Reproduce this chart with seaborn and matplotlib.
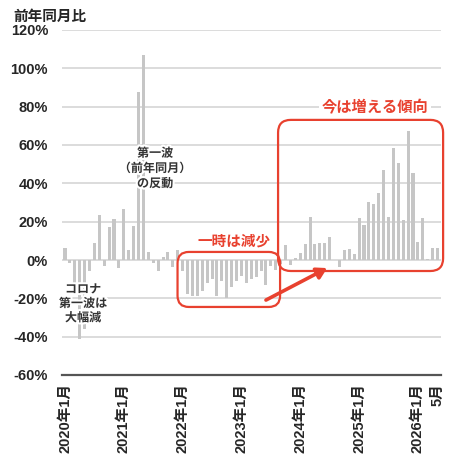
import pandas as pd
import matplotlib.pyplot as plt
import matplotlib.patheffects as pe
from matplotlib.patches import FancyBboxPatch
import seaborn as sns

sns.set_style('white')
plt.rcParams['font.family'] = ['Liberation Sans', 'Noto Sans CJK JP']
plt.rcParams['axes.unicode_minus'] = False

# 前年同月比（%） 2020年1月〜2026年5月
vals_2020 = [6, -1.5, -18, -41, -36, -6, 8.7, 23.5, -3, 17.4, 21.2, -4]
vals_2021 = [26.6, 5, 17.5, 87.4, 107, 4, -1.5, -6, 1.5, 4, -3.5, 5]
vals_2022 = [-6, -17.5, -19, -19, -16, -12, -10, -19, -11, -20, -14, -11]
vals_2023 = [-8.5, -12, -10, -9, -6, -13, -3, -5, -2, 7.8, -2.6, 1]
vals_2024 = [3.5, 8.2, 22.6, 8.2, 9, 8.7, 12.2, 0, -3.8, 5.2, 5.6, 3]
vals_2025 = [21.8, 18, 30, 29.3, 35, 47, 22.6, 58.3, 50.8, 20.9, 67.5, 45.6]
vals_2026 = [9.4, 21.8, 0.7, 6.4, 6.4]

years = [2020, 2021, 2022, 2023, 2024, 2025, 2026]
all_vals = [vals_2020, vals_2021, vals_2022, vals_2023, vals_2024, vals_2025, vals_2026]

months = []
yoy = []
for y, vs in zip(years, all_vals):
    for m, v in enumerate(vs, start=1):
        months.append(f'{y}年{m}月')
        yoy.append(v)
df = pd.DataFrame({'month': months, 'yoy': yoy})

tick_labels = ['2020年1月', '2021年1月', '2022年1月', '2023年1月',
               '2024年1月', '2025年1月', '2026年1月', '5月']
tick_pos = [months.index(t) for t in tick_labels[:-1]] + [len(months) - 1]

red = '#e8412f'
bar_color = '#c6c6c6'

fig = plt.figure(figsize=(4.5, 4.65), dpi=100)
ax = fig.add_axes([62/450, 90/465, 379/450, 345/465])

sns.barplot(data=df, x='month', y='yoy', color=bar_color, saturation=1,
            width=0.62, linewidth=0, ax=ax)

ax.set_xlim(-0.61, 76.71)
ax.set_ylim(-60, 120)
ax.set_yticks(range(-60, 121, 20))
ax.set_yticklabels([f'{v}%' for v in range(-60, 121, 20)], fontsize=10.5, fontweight='bold')
ax.set_xticks(tick_pos)
ax.set_xticklabels(tick_labels, rotation=90, fontsize=10.5, fontweight='bold',
                   va='top', ha='center')
ax.tick_params(axis='both', length=0)
ax.tick_params(axis='y', pad=10)
ax.tick_params(axis='x', pad=6)
ax.set_xlabel('')
ax.set_ylabel('')
ax.yaxis.grid(True, color='#d6d6d6', lw=1.2)
ax.set_axisbelow(True)
for s in ['top', 'right', 'left']:
    ax.spines[s].set_visible(False)
ax.spines['bottom'].set_color('#555555')
ax.spines['bottom'].set_linewidth(1.6)

fig.text(13/450, 1 - 16.5/465, '前年同月比', fontsize=10.5, fontweight='bold', va='center')

# 赤枠
asp = 4.9 / 1.915
box1 = FancyBboxPatch((22.96, -24.5), 20.92, 28.7,
                      boxstyle='round,pad=0,rounding_size=2.3', mutation_aspect=asp,
                      fc='none', ec=red, lw=1.6, clip_on=False, zorder=5)
box2 = FancyBboxPatch((43.47, -5.74), 33.67, 78.84,
                      boxstyle='round,pad=0,rounding_size=2.6', mutation_aspect=asp,
                      fc='none', ec=red, lw=1.6, clip_on=False, zorder=5)
ax.add_patch(box1)
ax.add_patch(box2)

ax.annotate('', xy=(53.5, -4.2), xytext=(41.0, -20.9),
            arrowprops=dict(arrowstyle='-|>,head_length=0.6,head_width=0.35',
                            color=red, lw=2.6, shrinkA=0, shrinkB=0), zorder=6)

ax.text(34.5, 9.4, '一時は減少', color=red, fontsize=10.5, fontweight='bold',
        ha='center', va='center')
ax.text(63.3, 79.4, '今は増える傾向', color=red, fontsize=11, fontweight='bold',
        ha='center', va='center',
        bbox=dict(fc='white', ec='none', pad=2))

halo = [pe.withStroke(linewidth=3, foreground='white')]
ax.text(18.4, 47.5, '第一波\n（前年同月）\nの反動', color='#333333', fontsize=8.7,
        fontweight='bold', ha='center', va='center', linespacing=1.35,
        path_effects=halo, zorder=4)
ax.text(3.7, -23, 'コロナ\n第一波は\n大幅減', color='#333333', fontsize=8.7,
        fontweight='bold', ha='center', va='center', linespacing=1.25,
        path_effects=halo, zorder=4)

fig.savefig('out.png', dpi=100)
